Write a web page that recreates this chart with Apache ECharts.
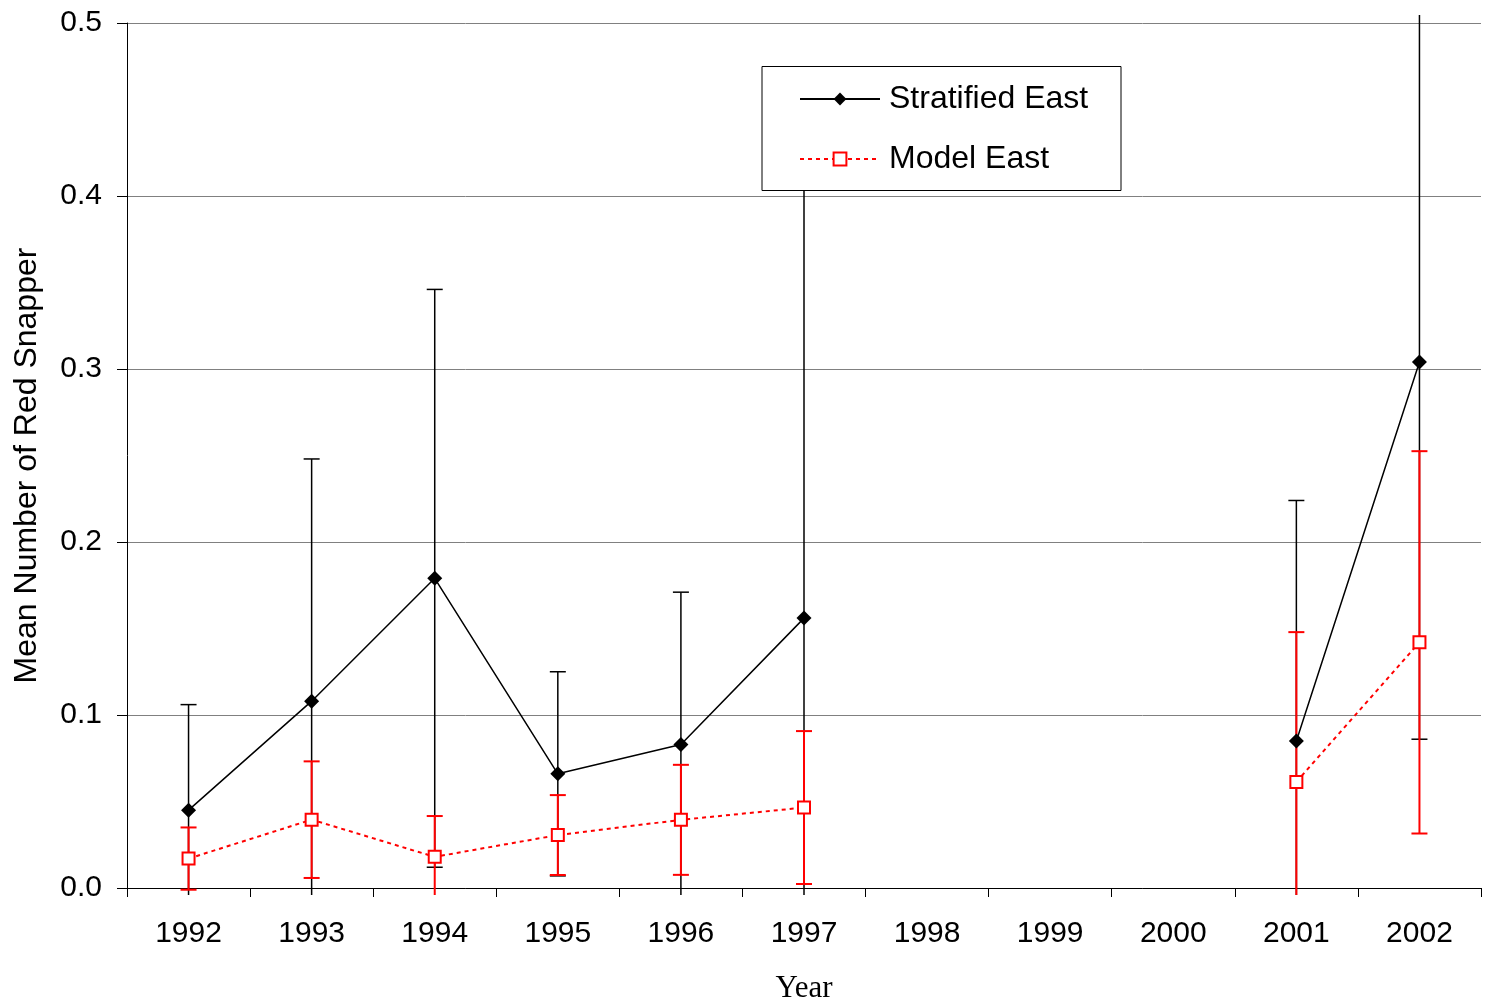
<!DOCTYPE html>
<html>
<head>
<meta charset="utf-8">
<title>Mean Number of Red Snapper</title>
<script src="https://cdn.jsdelivr.net/npm/echarts@6/dist/echarts.min.js"></script>
<style>
  html, body { margin: 0; padding: 0; background: #ffffff; }
  #chart { width: 1485px; height: 1005px; }
</style>
</head>
<body>
<div id="chart"></div>
<script>
// Survey years on the category axis
const years = ['1992', '1993', '1994', '1995', '1996', '1997', '1998', '1999', '2000', '2001', '2002'];

// Stratified estimate (mean) and its error half-width; null = no survey
const stratifiedMean = [0.045, 0.108, 0.179, 0.066, 0.083, 0.156, null, null, null, 0.085, 0.304];
const stratifiedErr  = [0.061, 0.140, 0.167, 0.059, 0.088, 0.284, null, null, null, 0.139, 0.218];

// Model-based estimate (mean) and its error half-width
const modelMean = [0.017, 0.0395, 0.018, 0.0306, 0.0394, 0.0465, null, null, null, 0.0613, 0.142];
const modelErr  = [0.018, 0.0337, 0.0236, 0.0231, 0.0318, 0.0442, null, null, null, 0.0866, 0.1105];

// Y axis ticks
const yTicks = [0, 0.1, 0.2, 0.3, 0.4, 0.5];

const SANS = '"Liberation Sans", Arial, sans-serif';
const SERIF = '"Liberation Serif", "Times New Roman", serif';

// [index, low, high] triples for the error bars
function errorRows(mean, err) {
  const rows = [];
  mean.forEach((m, i) => {
    if (m !== null && err[i] !== null) rows.push([i, m - err[i], m + err[i]]);
  });
  return rows;
}

// Vertical whisker with end caps; ends running past the plot are cut without a cap
function errorBarRenderer(color, width, capHalf) {
  return function (params, api) {
    const i = api.value(0);
    const x = api.coord([i, 0])[0];
    const cs = params.coordSys;
    const minY = cs.y - 8;
    const maxY = cs.y + cs.height + 7;
    let yHi = api.coord([i, api.value(2)])[1];
    let yLo = api.coord([i, api.value(1)])[1];
    const hiClipped = yHi < minY;
    const loClipped = yLo > maxY;
    yHi = Math.max(yHi, minY);
    yLo = Math.min(yLo, maxY);
    const style = { stroke: color, lineWidth: width };
    const children = [
      { type: 'line', shape: { x1: x, y1: yHi, x2: x, y2: yLo }, style: style }
    ];
    if (!hiClipped) children.push({ type: 'line', shape: { x1: x - capHalf, y1: yHi, x2: x + capHalf, y2: yHi }, style: style });
    if (!loClipped) children.push({ type: 'line', shape: { x1: x - capHalf, y1: yLo, x2: x + capHalf, y2: yLo }, style: style });
    return { type: 'group', children: children };
  };
}

const chart = echarts.init(document.getElementById('chart'), null, { renderer: 'canvas' });

chart.setOption({
  animation: false,
  backgroundColor: '#ffffff',
  grid: { left: 127, right: 4, top: 23, bottom: 117, containLabel: false, outerBoundsMode: 'none' },
  xAxis: {
    type: 'category',
    data: years,
    boundaryGap: true,
    name: 'Year',
    nameLocation: 'middle',
    nameGap: 85,
    nameTextStyle: { fontFamily: SERIF, fontSize: 31, color: '#000', lineHeight: 31 },
    axisLine: { lineStyle: { color: '#000', width: 1 } },
    axisTick: { show: true, alignWithLabel: false, length: 9, lineStyle: { color: '#000' } },
    axisLabel: { fontFamily: SANS, fontSize: 30, color: '#000', margin: 31, interval: 0 },
    splitLine: { show: false }
  },
  yAxis: {
    type: 'value',
    min: yTicks[0],
    max: yTicks[yTicks.length - 1],
    interval: 0.1,
    name: 'Mean Number of Red Snapper',
    nameLocation: 'middle',
    nameGap: 83,
    nameRotate: 90,
    nameTextStyle: { fontFamily: SANS, fontSize: 32, color: '#000', lineHeight: 33, padding: [0, 20, 0, 0] },
    axisLine: { show: true, lineStyle: { color: '#000', width: 1 } },
    axisTick: { show: true, length: 10, lineStyle: { color: '#000' } },
    axisLabel: {
      fontFamily: SANS, fontSize: 30, color: '#000', margin: 25,
      formatter: v => v.toFixed(1)
    },
    splitLine: { show: true, lineStyle: { color: '#808080', width: 1 } }
  },
  legend: {
    orient: 'vertical',
    left: 799,
    top: 83,
    padding: 0,
    itemGap: 28,
    itemWidth: 80,
    itemHeight: 16,
    z: 20,
    data: ['Stratified East', 'Model East'],
    textStyle: { fontFamily: SANS, fontSize: 32, color: '#000', lineHeight: 32, padding: [0, 0, 0, 4] }
  },
  graphic: [
    {
      type: 'rect',
      z: 15,
      shape: { x: 762, y: 66.5, width: 359, height: 124 },
      style: { fill: '#ffffff', stroke: '#000000', lineWidth: 1 }
    }
  ],
  series: [
    {
      name: 'Stratified East error',
      type: 'custom',
      z: 1,
      silent: true,
      clip: false,
      renderItem: errorBarRenderer('#000000', 1.5, 8),
      encode: { x: 0, y: [1, 2] },
      data: errorRows(stratifiedMean, stratifiedErr)
    },
    {
      name: 'Model East error',
      type: 'custom',
      z: 1,
      silent: true,
      clip: false,
      renderItem: errorBarRenderer('#ff0000', 2, 8),
      encode: { x: 0, y: [1, 2] },
      data: errorRows(modelMean, modelErr)
    },
    {
      name: 'Stratified East',
      type: 'line',
      z: 3,
      data: stratifiedMean,
      connectNulls: false,
      symbol: 'diamond',
      symbolSize: [15, 15],
      lineStyle: { color: '#000000', width: 1.5, type: 'solid' },
      itemStyle: { color: '#000000' }
    },
    {
      name: 'Model East',
      type: 'line',
      z: 4,
      data: modelMean,
      connectNulls: false,
      symbol: 'rect',
      symbolSize: 12,
      lineStyle: { color: '#ff0000', width: 2, type: [4, 4] },
      itemStyle: { color: '#ffffff', borderColor: '#ff0000', borderWidth: 2 }
    }
  ]
});
</script>
</body>
</html>
